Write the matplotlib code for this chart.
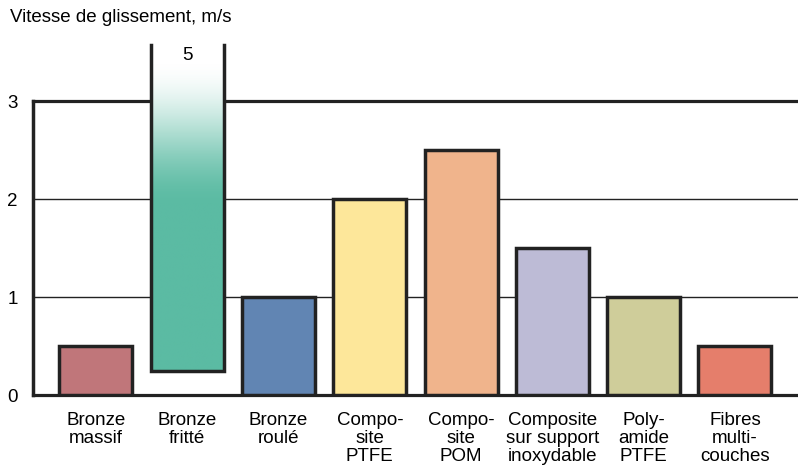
import numpy as np
import matplotlib
matplotlib.use("Agg")
import matplotlib.pyplot as plt
from matplotlib.colors import LinearSegmentedColormap

plt.rcParams['font.family'] = ['Liberation Sans', 'DejaVu Sans']

categories = ["Bronze\nmassif", "Bronze\nfritté", "Bronze\nroulé", "Compo-\nsite\nPTFE",
              "Compo-\nsite\nPOM", "Composite\nsur support\ninoxydable", "Poly-\namide\nPTFE",
              "Fibres\nmulti-\ncouches"]
bottoms = [0, 0.25, 0, 0, 0, 0, 0, 0]
tops = [0.5, 3.57, 1.0, 2.0, 2.5, 1.5, 1.0, 0.5]
colors = ["#c0767a", "#5bbba3", "#6185b3", "#fde79a", "#f0b48c", "#bdbbd6", "#cfcd9a", "#e57e6b"]
broken_label = "5"
yticks = [0, 1, 2, 3]

FS = 13.5

fig = plt.figure(figsize=(7.98, 4.65), dpi=100)
ax = fig.add_axes([33/798, 70/465, 764/798, 294/465])
ax.set_xlim(-0.69, 7.68)
ax.set_ylim(0, 3)

x = np.arange(len(categories))
w = 0.8
edge = "#222222"
for i, (b, t, c) in enumerate(zip(bottoms, tops, colors)):
    if i == 1:
        # gradient bar with open top
        grad_start, grad_end = 1.9, 3.42
        cmap = LinearSegmentedColormap.from_list("g", ["white", c])
        ys = np.linspace(t, b, 300)
        s = np.clip((grad_end - ys) / (grad_end - grad_start), 0, 1)
        vals = s * s * (3 - 2 * s)
        img = vals.reshape(-1, 1)
        ax.imshow(img, cmap=cmap, vmin=0, vmax=1, aspect='auto',
                  extent=[x[i] - w/2, x[i] + w/2, b, t], zorder=3, clip_on=False,
                  interpolation='bilinear')
        ax.plot([x[i] - w/2, x[i] - w/2, x[i] + w/2, x[i] + w/2], [t, b, b, t],
                color=edge, lw=2.5, zorder=4, clip_on=False, solid_joinstyle='miter')
        ax.text(x[i], 3.46, broken_label, ha='center', va='center', fontsize=FS, zorder=5)
    else:
        ax.bar(x[i], t - b, bottom=b, width=w, color=c, edgecolor=edge, linewidth=2.5,
               zorder=3)

# horizontal lines
for yv in yticks:
    lw = 2.3 if yv in (0, 3) else 1.0
    ax.axhline(yv, color=edge, lw=lw, zorder=1 if yv in (1, 2) else 2.5, clip_on=False)

for sp in ['top', 'right', 'bottom']:
    ax.spines[sp].set_visible(False)
ax.spines['left'].set_linewidth(2.5)
ax.spines['left'].set_color(edge)

ax.set_yticks(yticks)
ax.set_yticklabels([str(v) for v in yticks], fontsize=FS)
ax.tick_params(axis='y', length=0, pad=11)
ax.set_xticks(x)
ax.set_xticklabels(categories, fontsize=FS, linespacing=1.08)
ax.tick_params(axis='x', length=0, pad=12)

fig.text(10/798, 1 - 17/465, "Vitesse de glissement, m/s", fontsize=FS, ha='left', va='center')

fig.savefig("out.png", dpi=100)
